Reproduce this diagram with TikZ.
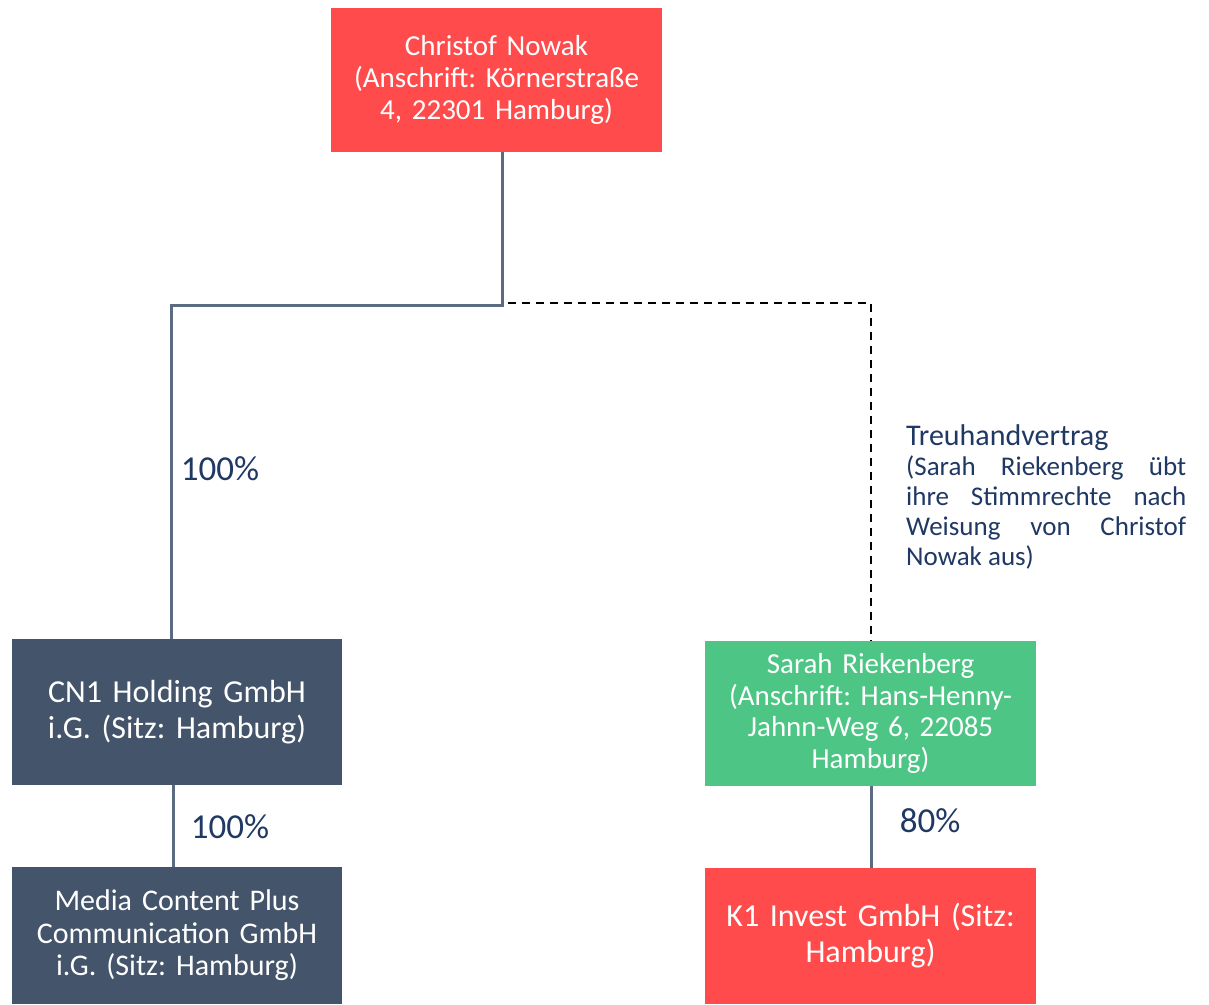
\documentclass[tikz,border=0pt]{standalone}
\usepackage{fontspec}
\setmainfont{Carlito}
\frenchspacing
\definecolor{boxred}{HTML}{FF4B4B}
\definecolor{boxslate}{HTML}{44546A}
\definecolor{boxgreen}{HTML}{4DC585}
\definecolor{labblue}{HTML}{1F3864}
\definecolor{linegray}{HTML}{5B6B80}
\begin{document}
\begin{tikzpicture}[x=1pt,y=-1pt,
  entity/.style={draw=none, inner sep=0pt, minimum width=331pt, text width=320pt, align=center, text=white},
  smalltext/.style={font=\fontsize{29}{31.7}\selectfont},
  bigtext/.style={font=\fontsize{32}{36}\selectfont},
  pct/.style={text=labblue, inner sep=0pt, font=\fontsize{35}{38}\selectfont},
  conn/.style={draw=linegray, line width=3pt},
  trust/.style={draw=black, line width=2.5pt, dash pattern=on 8pt off 6pt, dash phase=-6pt}
]
\useasboundingbox (0,0) rectangle (1209,1004);
\fill[white] (0,0) rectangle (1209,1004);

\node[entity, smalltext, fill=boxred, minimum height=144pt] (top) at (496.5,80)
  {Christof Nowak\\(Anschrift: Körnerstraße\\4, 22301 Hamburg)};
\node[entity, bigtext, fill=boxslate, minimum width=330pt, minimum height=146pt] (cn1) at (177,712)
  {CN1 Holding GmbH\\i.G. (Sitz: Hamburg)};
\node[entity, fill=boxslate, minimum width=330pt, minimum height=137pt, font=\fontsize{30}{32.5}\selectfont] (media) at (177,935.5)
  {Media Content Plus\\Communication GmbH\\i.G. (Sitz: Hamburg)};
\node[entity, smalltext, fill=boxgreen, minimum height=145pt] (sarah) at (870.5,713.5)
  {Sarah Riekenberg\\(Anschrift: Hans-Henny-\\Jahnn-Weg 6, 22085\\Hamburg)};
\node[entity, bigtext, fill=boxred, minimum height=136pt] (k1) at (870.5,936)
  {K1 Invest GmbH (Sitz:\\Hamburg)};

\coordinate (j1) at (502,305);
\coordinate (j2) at (171,305);
\coordinate (j3) at (871,303);
\draw[conn] (top.south -| j1) -- (j1) -- (j2) -- (cn1.north -| j2);
\draw[trust] (j1 |- j3) -- (j3) -- (sarah.north -| j3);
\draw[conn] (cn1.south -| 173,0) -- (media.north -| 173,0);
\draw[conn] (sarah.south -| 871,0) -- (k1.north -| 871,0);

\node[pct] (p1) at (220,469) {100\%};
\node[pct] (p2) at (230,827) {100\%};
\node[pct] (p3) at (930,821) {80\%};

\node[anchor=north west, inner sep=0pt, text=labblue, align=left, font=\fontsize{27}{29.8}\selectfont] (treu) at (906,424)
  {{\fontsize{30}{32}\selectfont Treuhandvertrag}\\[1pt]
   \makebox[280pt][s]{(Sarah Riekenberg übt}\\
   \makebox[280pt][s]{ihre Stimmrechte nach}\\
   \makebox[280pt][s]{Weisung von Christof}\\
   Nowak aus)};
\end{tikzpicture}
\end{document}
